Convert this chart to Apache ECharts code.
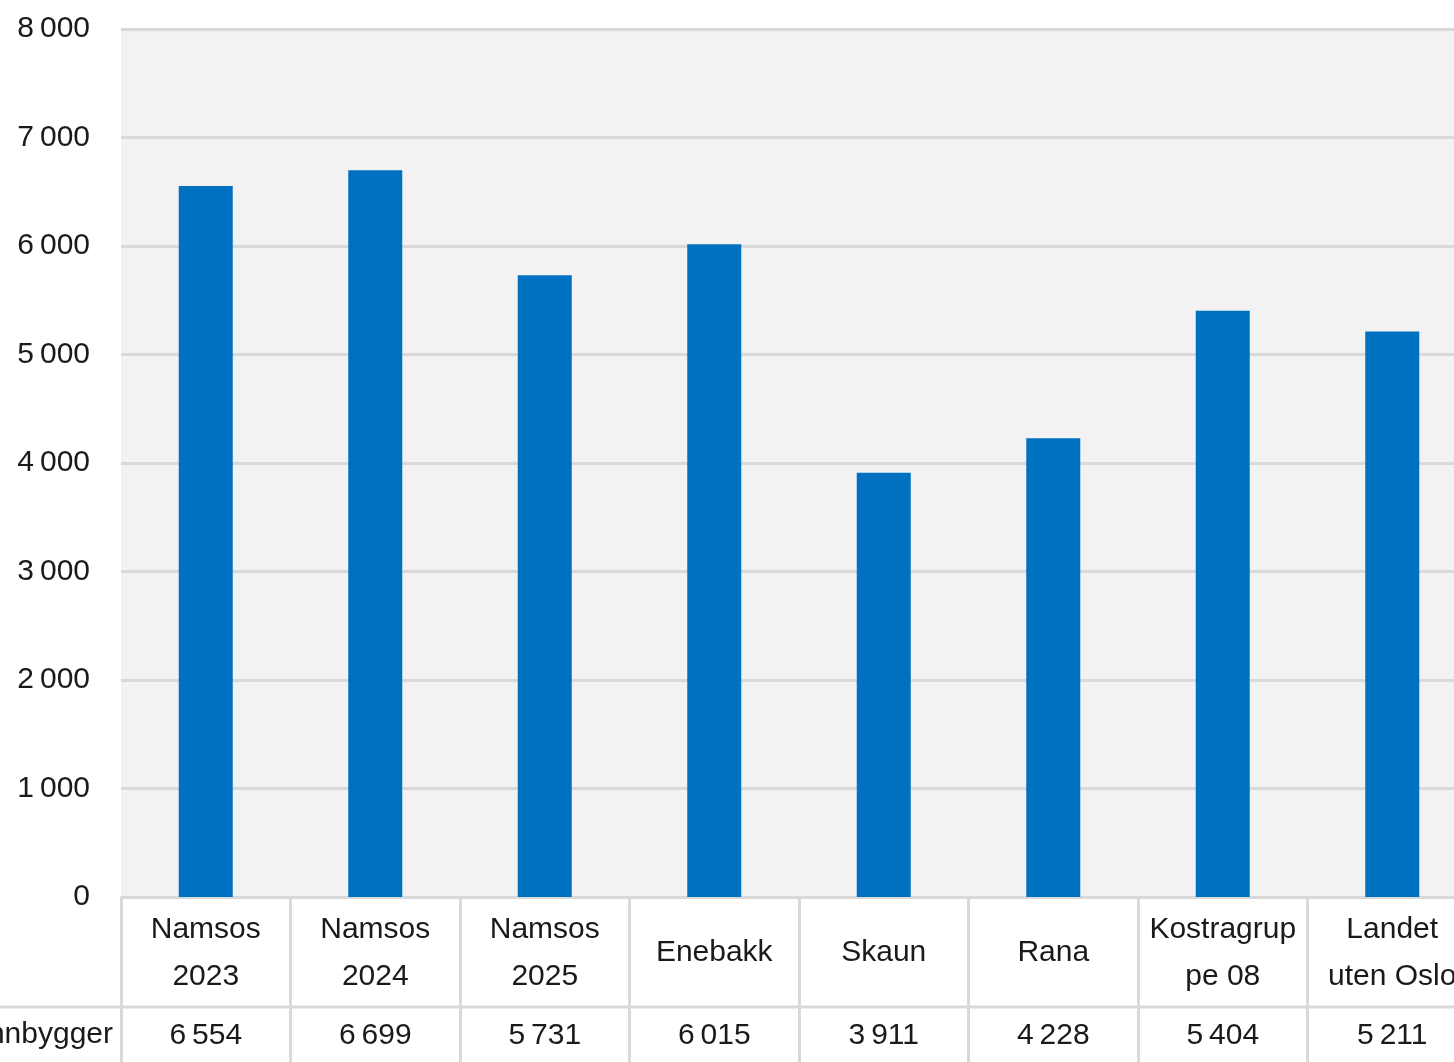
<!DOCTYPE html>
<html><head><meta charset="utf-8">
<script src="https://cdn.jsdelivr.net/npm/echarts@6/dist/echarts.min.js"></script>
<style>html,body{margin:0;padding:0;overflow:hidden;background:#fff;width:1454px;height:1062px}#c{width:1480px;height:1062px}</style>
</head><body><div id="c"></div>
<script>
const categories = ['Namsos\n2023','Namsos\n2024','Namsos\n2025','Enebakk','Skaun','Rana','Kostragrup\npe 08','Landet\nuten Oslo'];
const values = [6554, 6699, 5731, 6015, 3911, 4228, 5404, 5211];
const seriesName = 'Kroner per innbygger';
const yTicks = [0, 1000, 2000, 3000, 4000, 5000, 6000, 7000, 8000];

const FONT = '"Liberation Sans",Arial,sans-serif';
const FS = 30;
const fmt = v => { const s = String(v); return s.length > 3 ? s.slice(0, -3) + '\u2009' + s.slice(-3) : s; };
const LINE = '#d9d9d9';
const TXT = '#1a1a1a';

const chart = echarts.init(document.getElementById('c'), null, {renderer: 'canvas'});
chart.setOption({
  animation: false,
  grid: {left: 121, right: 3, top: 29, bottom: 165, show: true, backgroundColor: '#f2f2f2', borderWidth: 0},
  xAxis: [{
    type: 'category', data: categories, boundaryGap: true,
    axisLine: {show: true, lineStyle: {color: LINE, width: 3}},
    axisTick: {show: true, length: 170, lineStyle: {color: LINE, width: 3}},
    axisLabel: {color: TXT, fontFamily: FONT, fontSize: FS, lineHeight: 47, margin: 56, verticalAlign: 'middle', interval: 0}
  }, {
    type: 'category', data: values.map(fmt), position: 'bottom', boundaryGap: true,
    axisLine: {show: false}, axisTick: {show: false},
    axisLabel: {color: TXT, fontFamily: FONT, fontSize: FS, margin: 139, verticalAlign: 'middle', interval: 0}
  }],
  yAxis: {
    type: 'value', min: yTicks[0], max: yTicks[yTicks.length - 1], interval: 1000,
    axisLine: {show: false}, axisTick: {show: false},
    splitLine: {show: true, lineStyle: {color: LINE, width: 3}},
    axisLabel: {color: TXT, fontFamily: FONT, fontSize: FS, margin: 31, formatter: v => fmt(v)}
  },
  series: [{
    name: seriesName, type: 'bar', data: values, barWidth: 54, itemStyle: {color: '#0070c0'}
  }],
  graphic: [
    {type: 'line', shape: {x1: 0, y1: 1007, x2: 1480, y2: 1007}, style: {stroke: LINE, lineWidth: 3}},
    {type: 'text', x: 113, y: 1035, style: {text: seriesName, align: 'right', verticalAlign: 'middle', fill: TXT, font: FS + 'px ' + FONT}}
  ]
});
</script></body></html>
